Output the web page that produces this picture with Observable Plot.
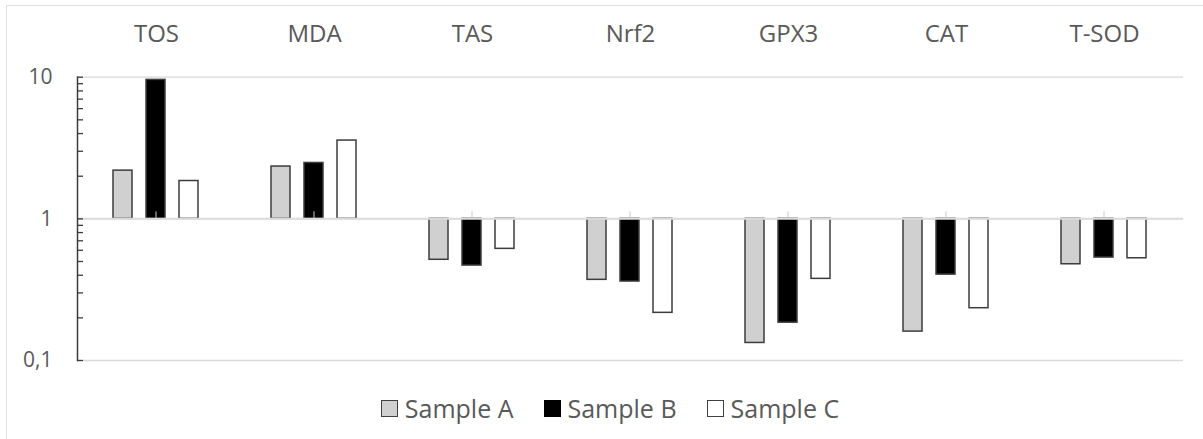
<!DOCTYPE html>
<html>
<head>
<meta charset="utf-8">
<script src="https://cdn.jsdelivr.net/npm/d3@7"></script>
<script src="https://cdn.jsdelivr.net/npm/@observablehq/plot@0.6"></script>
<style>
  html, body { margin: 0; padding: 0; background: #fff; }
  #wrap { position: relative; width: 1203px; height: 439px; overflow: hidden; font-family: "Open Sans", sans-serif; }
  #border { position: absolute; left: 6px; top: 5px; width: 1300px; height: 600px;
            border-top: 1.5px solid #dedede; border-left: 1.5px solid #dedede; pointer-events: none; }
  #legend { display: flex; justify-content: center; align-items: center; gap: 30px;
            height: 46px; padding-left: 17px; color: #595959; font-size: 25px; }
  .item { display: flex; align-items: center; gap: 7px; }
  .sw { width: 15px; height: 15px; border: 1.5px solid #404040; }
</style>
</head>
<body>
<div id="wrap">
  <div id="chart"></div>
  <div id="legend"></div>
  <div id="border"></div>
</div>
<script>
const categories = ["TOS", "MDA", "TAS", "Nrf2", "GPX3", "CAT", "T-SOD"];
const seriesNames = ["Sample A", "Sample B", "Sample C"];
const sampleA = [2.19, 2.34, 0.514, 0.371, 0.133, 0.160, 0.478];
const sampleB = [9.57, 2.48, 0.468, 0.361, 0.185, 0.404, 0.533];
const sampleC = [1.85, 3.57, 0.614, 0.217, 0.377, 0.234, 0.527];
const seriesFill = ["#d0d0d0", "#000000", "#ffffff"];
const yTicks = [0.1, 1, 10];
const yMinorTicks = [0.1, 0.2, 0.3, 0.4, 0.5, 0.6, 0.7, 0.8, 0.9, 1, 2, 3, 4, 5, 6, 7, 8, 9, 10];
const baseline = [1];

const seriesValues = [sampleA, sampleB, sampleC];
const rows = [];
categories.forEach((c, i) => {
  seriesNames.forEach((s, j) => rows.push({cat: c, series: s, value: seriesValues[j][i]}));
});

const chart = Plot.plot({
  width: 1203,
  height: 385,
  marginLeft: 75,
  marginRight: 19,
  marginTop: 76.7,
  marginBottom: 25,
  style: {fontFamily: "Open Sans", background: "transparent"},
  fx: {domain: categories, padding: 0, axis: null},
  x: {domain: seriesNames, paddingInner: 0.412, paddingOuter: 1.038, axis: null},
  y: {type: "log", domain: [0.1, 10], axis: null, label: null},
  color: {domain: seriesNames, range: seriesFill},
  marks: [
    Plot.ruleY(yTicks, {stroke: "#d9d9d9", strokeWidth: 1.3}),
    Plot.barY(rows, {fx: "cat", x: "series", y1: 1, y2: "value", fill: "series", stroke: "#3c3c3c", strokeWidth: 1.5}),
    Plot.ruleY(baseline, {stroke: "#dcdcdc", strokeWidth: 2}),
    Plot.ruleX(categories, {fx: d => d, x: () => seriesNames[1], y1: 1, y2: 1, insetTop: -7, stroke: "#c8c8c8", strokeWidth: 1}),
    Plot.frame({anchor: "left", facetAnchor: "left", stroke: "#3c3c3c", strokeWidth: 1.5}),
    Plot.axisY({ticks: yMinorTicks, tickSize: 6, dx: 6, tickFormat: () => "", stroke: "#3c3c3c", strokeWidth: 1.3, label: null}),
    Plot.axisY({ticks: yTicks, tickSize: 0, tickPadding: 25, tickFormat: d => String(d).replace(".", ","), fontSize: 21, color: "#595959", label: null}),
    Plot.text(categories, {fx: d => d, text: d => d, frameAnchor: "top", lineAnchor: "middle", dy: -43, fontSize: 24, fill: "#595959"})
  ]
});
document.getElementById("chart").appendChild(chart);

const legend = document.getElementById("legend");
seriesNames.forEach((s, j) => {
  const item = document.createElement("div");
  item.className = "item";
  const sw = document.createElement("div");
  sw.className = "sw";
  sw.style.background = seriesFill[j];
  if (j === 1) sw.style.borderColor = "#000";
  const t = document.createElement("span");
  t.textContent = s;
  item.appendChild(sw);
  item.appendChild(t);
  legend.appendChild(item);
});
</script>
</body>
</html>
